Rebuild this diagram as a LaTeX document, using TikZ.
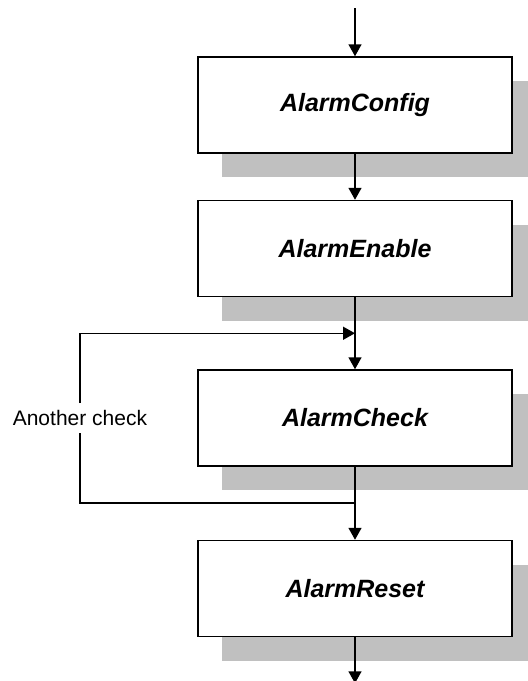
\documentclass[tikz,border=0pt]{standalone}
\usepackage{fontspec}
\setmainfont{Liberation Sans}
\usetikzlibrary{positioning,arrows.meta,shadows}
\definecolor{alarmShade}{RGB}{192,192,192}
\tikzset{
	alarmBox/.style={
		draw,
		line width=1.5pt,
		fill=white,
		minimum width=314pt,
		minimum height=96pt,
		font=\fontsize{25}{30}\selectfont\bfseries\itshape,
		drop shadow={shadow xshift=24pt, shadow yshift=-24pt, fill=alarmShade, opacity=1}
	},
	alarmNote/.style={
		inner xsep=4pt,
		inner ysep=7pt,
		font=\fontsize{21}{25}\selectfont
	},
	alarmFlow/.style={-{Triangle[width=13pt,length=12pt]}, line width=1.5pt},
	alarmLine/.style={line width=1.5pt}
}

\begin{document}
\begin{tikzpicture}[node distance=46pt]

	\useasboundingbox (0,0) rectangle (528pt,-681pt);

	% Boxes
	\node[alarmBox] (config) at (355pt,-105pt) {AlarmConfig};
	\node[alarmBox, below=46pt of config] (enable) {AlarmEnable};
	\node[alarmBox, below=72pt of enable] (check) {AlarmCheck};
	\node[alarmBox, below=73pt of check] (reset) {AlarmReset};

	% Loop points and label
	\coordinate[above=36pt of check] (merge);
	\coordinate[below=36pt of check] (split);
	\coordinate (in) at (355pt,-8pt);
	\coordinate[below=46pt of reset] (out);
	\node[alarmNote, left=46pt of check] (note) {Another check};

	% Flows
	\draw[alarmFlow] (in) -- (config);
	\draw[alarmFlow] (config) -- (enable);
	\draw[alarmFlow] (enable) -- (check);
	\draw[alarmFlow] (check) -- (reset);
	\draw[alarmFlow] (reset) -- (out);
	\draw[alarmLine] (split) -| (note);
	\draw[alarmFlow] (note) |- (merge);

\end{tikzpicture}
\end{document}
